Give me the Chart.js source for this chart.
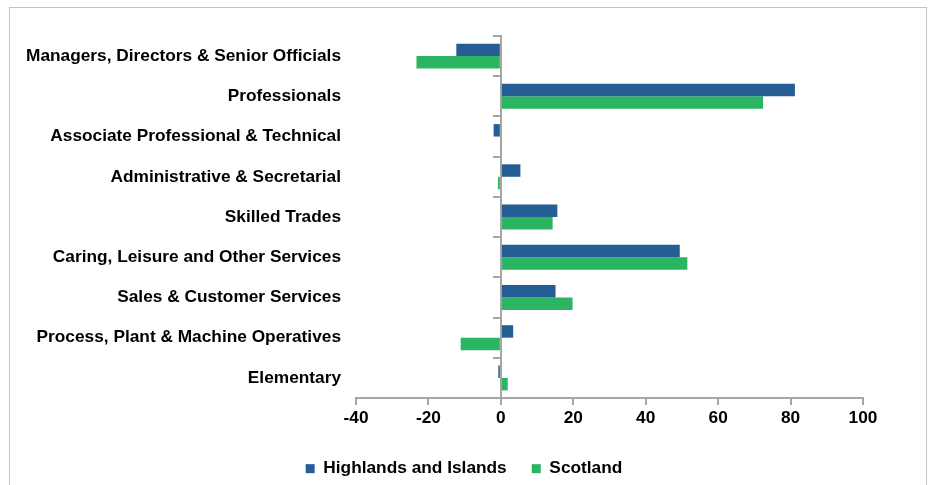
<!DOCTYPE html>
<html>
<head>
<meta charset="utf-8">
<script src="https://cdn.jsdelivr.net/npm/chart.js@4/dist/chart.umd.min.js"></script>
<style>
  html, body { margin: 0; padding: 0; background: #ffffff; }
  #wrap { position: relative; width: 928px; height: 485px; }
</style>
</head>
<body>
<div id="wrap"><canvas id="chart" width="928" height="485"></canvas></div>
<script>
// Occupation groups (top to bottom)
const categories = [
  'Managers, Directors & Senior Officials',
  'Professionals',
  'Associate Professional & Technical',
  'Administrative & Secretarial',
  'Skilled Trades',
  'Caring, Leisure and Other Services',
  'Sales & Customer Services',
  'Process, Plant & Machine Operatives',
  'Elementary'
];

// Series values
const highlandsAndIslands = [-12.3, 81.2, -2.0, 5.4, 15.6, 49.4, 15.1, 3.4, -0.7];
const scotland            = [-23.3, 72.4, 0.3, -0.8, 14.3, 51.5, 19.8, -11.1, 1.9];

// Value axis range
const xMin = -40;
const xMax = 100;
const xStep = 20;

const seriesNames = ['Highlands and Islands', 'Scotland'];

const BLUE = '#255E94';
const GREEN = '#2BB462';
const AXIS_GREY = '#A6A6A6';
const labelFont = { family: "'Liberation Sans', Arial, sans-serif", size: 17.3, weight: 'bold' };

// Thin grey frame around the whole figure
const framePlugin = {
  id: 'frame',
  beforeDraw(chart) {
    const ctx = chart.ctx;
    ctx.save();
    ctx.strokeStyle = '#C4C4C4';
    ctx.lineWidth = 1;
    ctx.strokeRect(9.5, 7.5, 917, 500);
    ctx.restore();
  }
};

new Chart(document.getElementById('chart'), {
  type: 'bar',
  data: {
    labels: categories,
    datasets: [
      { label: seriesNames[0], data: highlandsAndIslands, backgroundColor: BLUE, borderWidth: 0 },
      { label: seriesNames[1], data: scotland, backgroundColor: GREEN, borderWidth: 0 }
    ]
  },
  options: {
    indexAxis: 'y',
    responsive: false,
    devicePixelRatio: 1,
    animation: false,
    categoryPercentage: 0.62,
    barPercentage: 1.0,
    layout: { padding: { top: 36, right: 0, left: 0, bottom: 1 } },
    scales: {
      x: {
        type: 'linear',
        min: xMin,
        max: xMax,
        ticks: { stepSize: xStep, color: '#000000', font: labelFont, padding: 3 },
        grid: { drawOnChartArea: false, drawTicks: true, tickLength: 7, color: AXIS_GREY, lineWidth: 2 },
        border: { display: true, color: AXIS_GREY, width: 2 },
        afterFit(scale) { scale.height = 37; }
      },
      y: {
        type: 'category',
        grid: { display: false, drawTicks: false },
        border: { display: false },
        ticks: { color: '#000000', font: labelFont, padding: 15 },
        afterFit(scale) { scale.width = 356; }
      },
      // Category axis drawn through zero on the value axis
      y2: {
        type: 'category',
        axis: 'y',
        position: { x: 0 },
        offset: true,
        z: 1,
        ticks: { display: false },
        grid: { offset: true, drawOnChartArea: false, drawTicks: true, tickLength: 7, color: AXIS_GREY, lineWidth: 2 },
        border: { display: true, color: AXIS_GREY, width: 2 }
      },
      // Empty right-hand margin for the plot area
      yMargin: {
        type: 'category',
        axis: 'y',
        position: 'right',
        ticks: { display: false },
        grid: { display: false, drawTicks: false },
        border: { display: false },
        afterFit(scale) { scale.width = 65; }
      }
    },
    plugins: {
      legend: {
        position: 'bottom',
        maxHeight: 49,
        labels: { boxWidth: 9, boxHeight: 9, padding: 25, color: '#000000', font: labelFont }
      },
      tooltip: { enabled: false }
    }
  },
  plugins: [framePlugin]
});
</script>
</body>
</html>
